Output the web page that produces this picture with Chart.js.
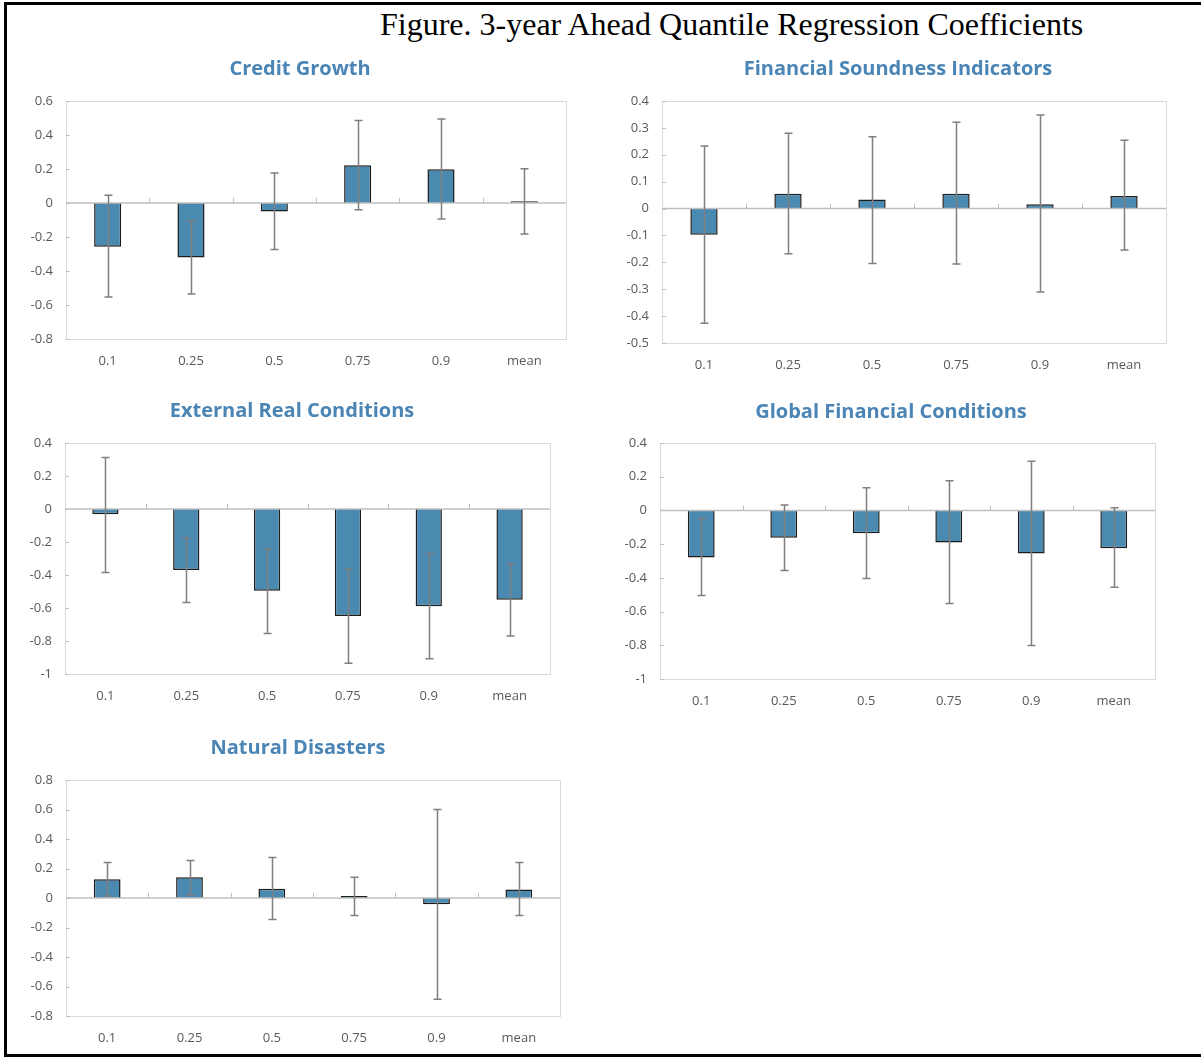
<!DOCTYPE html>
<html>
<head>
<meta charset="utf-8">
<script src="https://cdn.jsdelivr.net/npm/chart.js@4.4.1/dist/chart.umd.min.js"></script>
<style>
  html, body { margin: 0; padding: 0; background: #fff; width: 1201px; height: 1057px; overflow: hidden; }
  #frame { position: absolute; left: 4px; top: 2px; width: 1260px; height: 1049px;
           border-left: 3px solid #000; border-top: 3px solid #000; border-bottom: 3px solid #000; border-right: none; }
  #figTitle { position: absolute; left: 380px; top: 8px; font-family: "Liberation Serif", "Times New Roman", serif;
              font-size: 32px; line-height: 32px; color: #000; white-space: nowrap; }
  canvas { position: absolute; }
</style>
</head>
<body>
<div id="frame"></div>
<div id="figTitle">Figure. 3-year Ahead Quantile Regression Coefficients</div>
<canvas id="c1"></canvas>
<canvas id="c2"></canvas>
<canvas id="c3"></canvas>
<canvas id="c4"></canvas>
<canvas id="c5"></canvas>
<script>
// Quantiles shown on every panel
const quantiles = ['0.1', '0.25', '0.5', '0.75', '0.9', 'mean'];

// Credit Growth: coefficient and confidence band
const creditCoef = [-0.257, -0.32, -0.05, 0.222, 0.198, 0.01];
const creditLow  = [-0.553, -0.535, -0.273, -0.039, -0.094, -0.182];
const creditHigh = [0.045, -0.104, 0.176, 0.486, 0.494, 0.202];

// Financial Soundness Indicators
const fsiCoef = [-0.097, 0.055, 0.034, 0.055, 0.016, 0.047];
const fsiLow  = [-0.427, -0.168, -0.204, -0.206, -0.31, -0.154];
const fsiHigh = [0.233, 0.28, 0.267, 0.321, 0.348, 0.254];

// External Real Conditions
const extCoef = [-0.032, -0.369, -0.496, -0.649, -0.589, -0.55];
const extLow  = [-0.385, -0.566, -0.754, -0.935, -0.907, -0.77];
const extHigh = [0.312, -0.175, -0.244, -0.365, -0.27, -0.331];

// Global Financial Conditions
const gfcCoef = [-0.279, -0.162, -0.135, -0.19, -0.255, -0.224];
const gfcLow  = [-0.504, -0.356, -0.404, -0.552, -0.801, -0.455];
const gfcHigh = [-0.047, 0.032, 0.135, 0.176, 0.291, 0.016];

// Natural Disasters
const natCoef = [0.127, 0.14, 0.063, 0.014, -0.043, 0.057];
const natLow  = [0.014, 0.02, -0.145, -0.118, -0.687, -0.118];
const natHigh = [0.24, 0.254, 0.274, 0.14, 0.6, 0.24];

// Panel titles and y-axis ranges
const panelTitles = ['Credit Growth', 'Financial Soundness Indicators', 'External Real Conditions',
                     'Global Financial Conditions', 'Natural Disasters'];
const yMins  = [-0.8, -0.5, -1, -1, -0.8];
const yMaxs  = [0.6, 0.4, 0.4, 0.4, 0.8];
const ySteps = [0.2, 0.1, 0.2, 0.2, 0.2];

const BAR_FILL = '#4a8ab0';
const TITLE_BLUE = '#4a85b5';
const TEXT_GREY = '#595959';
const TICK_FONT = { family: 'Open Sans', size: 13 };

// Plot frame, zero axis, tick marks and error bars
const decor = {
  id: 'decor',
  beforeDatasetsDraw(chart) {
    const { ctx, chartArea: a, scales: { y } } = chart;
    ctx.save();
    ctx.strokeStyle = '#d9d9d9';
    ctx.lineWidth = 1;
    ctx.strokeRect(Math.round(a.left) + 0.5, Math.round(a.top) + 0.5,
                   Math.round(a.right - a.left), Math.round(a.bottom - a.top));
    ctx.strokeStyle = '#bfbfbf';
    y.ticks.forEach(t => {
      const py = Math.round(y.getPixelForValue(t.value)) + 0.5;
      ctx.beginPath();
      ctx.moveTo(a.left, py);
      ctx.lineTo(a.left + 4, py);
      ctx.stroke();
    });
    ctx.restore();
  },
  afterDatasetsDraw(chart) {
    const { ctx, chartArea: a, scales: { x, y } } = chart;
    const ds = chart.data.datasets[0];
    const meta = chart.getDatasetMeta(0);
    const y0 = y.getPixelForValue(0);
    ctx.save();
    // horizontal category axis crossing at zero
    ctx.strokeStyle = '#bfbfbf';
    ctx.lineWidth = 1.5;
    ctx.beginPath();
    ctx.moveTo(a.left, y0);
    ctx.lineTo(a.right, y0);
    ctx.stroke();
    ctx.lineWidth = 1;
    const n = chart.data.labels.length;
    for (let i = 1; i < n; i++) {
      const bx = Math.round((x.getPixelForValue(i - 1) + x.getPixelForValue(i)) / 2) + 0.5;
      ctx.beginPath();
      ctx.moveTo(bx, y0);
      ctx.lineTo(bx, y0 - 5);
      ctx.stroke();
    }
    // error bars
    ctx.strokeStyle = '#7f7f7f';
    ctx.lineWidth = 1.5;
    meta.data.forEach((bar, i) => {
      const cx = Math.round(bar.x) + 0.5;
      const yl = y.getPixelForValue(ds.errLow[i]);
      const yh = y.getPixelForValue(ds.errHigh[i]);
      ctx.beginPath();
      ctx.moveTo(cx, yl); ctx.lineTo(cx, yh);
      ctx.moveTo(cx - 4, yl); ctx.lineTo(cx + 4, yl);
      ctx.moveTo(cx - 4, yh); ctx.lineTo(cx + 4, yh);
      ctx.stroke();
    });
    ctx.restore();
  }
};

// Page placement of each panel: title centre, plot rectangle
const placement = [
  { tc: 300, ty: 69,  L: 66,  R: 566,  T: 101, B: 339 },
  { tc: 898, ty: 69,  L: 662, R: 1166, T: 101, B: 343 },
  { tc: 292, ty: 411, L: 65,  R: 550,  T: 443, B: 674 },
  { tc: 891, ty: 412, L: 660, R: 1155, T: 443, B: 679 },
  { tc: 298, ty: 748, L: 66,  R: 560,  T: 780, B: 1016 }
];

function fmt(v) {
  return String(Number(v.toFixed(2)));
}

function makePanel(idx, coef, low, high) {
  const p = placement[idx];
  const titleSize = 20, titleLH = 1.2;
  const yW = 50;                        // room for the value labels
  const axisLeft = p.L - yW;
  const spacerW = 2 * p.tc - axisLeft - p.R;   // empty right-hand box that centres the title
  const padL = 8, padR = 4;
  const canvasLeft = axisLeft - padL;
  const canvasTop = Math.round(p.ty - titleSize * titleLH / 2);
  const xAxisH = 34;
  const W = p.R + spacerW + padR - canvasLeft;
  const H = p.B + xAxisH - canvasTop;
  const titlePadB = p.T - canvasTop - titleSize * titleLH;

  const cv = document.getElementById('c' + (idx + 1));
  cv.style.left = canvasLeft + 'px';
  cv.style.top = canvasTop + 'px';
  cv.width = W; cv.height = H;
  cv.style.width = W + 'px'; cv.style.height = H + 'px';

  new Chart(cv, {
    type: 'bar',
    data: {
      labels: quantiles,
      datasets: [{
        data: coef,
        errLow: low,
        errHigh: high,
        backgroundColor: BAR_FILL,
        borderColor: '#1c1c1c',
        borderWidth: 1.5,
        borderSkipped: 'start',
        categoryPercentage: 1,
        barPercentage: 0.325
      }]
    },
    options: {
      responsive: false,
      animation: false,
      devicePixelRatio: 1,
      layout: { padding: { left: padL, right: padR, top: 0, bottom: 0 } },
      plugins: {
        legend: { display: false },
        tooltip: { enabled: false },
        title: {
          display: true,
          text: panelTitles[idx],
          color: TITLE_BLUE,
          font: { family: 'Open Sans', size: titleSize, weight: 'bold', lineHeight: titleLH },
          padding: { top: 0, bottom: titlePadB }
        }
      },
      scales: {
        x: {
          offset: true,
          grid: { display: false, drawTicks: false },
          border: { display: false },
          ticks: { color: TEXT_GREY, font: TICK_FONT, padding: 14, maxRotation: 0, autoSkip: false },
          afterFit(s) { s.height = xAxisH; }
        },
        y: {
          min: yMins[idx],
          max: yMaxs[idx],
          grid: { display: false, drawTicks: false },
          border: { display: false },
          ticks: { stepSize: ySteps[idx], color: TEXT_GREY, font: TICK_FONT, padding: 13,
                   callback: v => fmt(v) },
          afterFit(s) { s.width = yW; }
        },
        spacer: {
          type: 'linear',
          position: 'right',
          display: true,
          grid: { display: false, drawTicks: false },
          border: { display: false },
          ticks: { display: false },
          afterFit(s) { s.width = spacerW; }
        }
      }
    },
    plugins: [decor]
  });
}

makePanel(0, creditCoef, creditLow, creditHigh);
makePanel(1, fsiCoef, fsiLow, fsiHigh);
makePanel(2, extCoef, extLow, extHigh);
makePanel(3, gfcCoef, gfcLow, gfcHigh);
makePanel(4, natCoef, natLow, natHigh);
</script>
</body>
</html>
